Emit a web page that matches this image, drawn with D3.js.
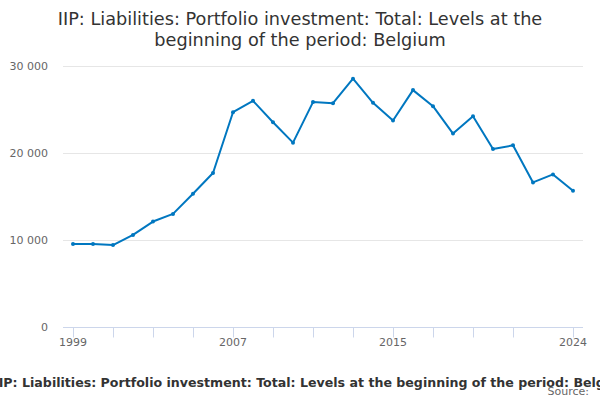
<!DOCTYPE html>
<html>
<head>
<meta charset="utf-8">
<script src="https://cdn.jsdelivr.net/npm/d3@7"></script>
<style>
  body { margin: 0; background: #fff; }
  svg { font-family: "DejaVu Sans", sans-serif; display: block; }
</style>
</head>
<body>
<svg id="chart" width="600" height="400"></svg>
<script>
const years = d3.range(1999, 2025)
const values = [
    9540, 9530, 9420, 10580, 12120, 13000, 15310, 17700, 24690, 26000,
    23540, 21190, 25850, 25730, 28540, 25770, 23730, 27230, 25380, 22230,
    24230, 20460, 20880, 16620, 17540, 15660,
]
const tickYears = [1999, 2001, 2003, 2005, 2007, 2009, 2011, 2013, 2015, 2017, 2019, 2021, 2024]
const labelYears = [1999, 2007, 2015, 2024]
const yTicks = [0, 10000, 20000, 30000]
const titleLines = [
    'IIP: Liabilities: Portfolio investment: Total: Levels at the',
    'beginning of the period: Belgium',
]
const caption = 'IIP: Liabilities: Portfolio investment: Total: Levels at the beginning of the period: Belgium'
const sourceText = 'Source:'

const data = years.map((year, i) => ({ year, value: values[i] }))

const svg = d3.select('#chart')
const margin = { top: 66, right: 17, bottom: 73, left: 63 }
const width = 600
const height = 400

const x = d3.scaleLinear()
    .domain([1998.5, 2024.5])
    .range([margin.left, width - margin.right])

const y = d3.scaleLinear()
    .domain([0, 30000])
    .range([height - margin.bottom, margin.top])

const fmt = (d) => d3.format(',')(d).replace(/,/g, ' ')

// title
svg.append('g')
    .selectAll('text')
    .data(titleLines)
    .join('text')
    .attr('x', width / 2)
    .attr('y', (d, i) => 25 + i * 21)
    .attr('text-anchor', 'middle')
    .attr('fill', '#333')
    .style('font-size', '17.7px')
    .text(d => d)

// gridlines
svg.append('g')
    .selectAll('line')
    .data(yTicks.filter(d => d > 0))
    .join('line')
    .attr('x1', margin.left)
    .attr('x2', width - margin.right)
    .attr('y1', d => y(d) + 0.5)
    .attr('y2', d => y(d) + 0.5)
    .attr('stroke', '#e6e6e6')

// y labels
svg.append('g')
    .selectAll('text')
    .data(yTicks)
    .join('text')
    .attr('x', margin.left - 15)
    .attr('y', d => y(d) + 4)
    .attr('text-anchor', 'end')
    .attr('fill', '#666')
    .style('font-size', '11px')
    .text(fmt)

// x axis
const xAxis = svg.append('g')
    .attr('transform', `translate(0,${y(0) + 0.5})`)

xAxis.append('line')
    .attr('x1', margin.left)
    .attr('x2', width - margin.right)
    .attr('stroke', '#ccd6eb')

xAxis.selectAll('line.tick')
    .data(tickYears)
    .join('line')
    .attr('class', 'tick')
    .attr('x1', d => Math.round(x(d)) + 0.5)
    .attr('x2', d => Math.round(x(d)) + 0.5)
    .attr('y2', 10)
    .attr('stroke', '#ccd6eb')

xAxis.selectAll('text')
    .data(labelYears)
    .join('text')
    .attr('x', d => x(d))
    .attr('y', 18)
    .attr('text-anchor', 'middle')
    .attr('fill', '#666')
    .style('font-size', '11px')
    .text(d => d)

// line
const line = d3.line()
    .x(d => x(d.year))
    .y(d => y(d.value))

svg.append('path')
    .datum(data)
    .attr('fill', 'none')
    .attr('stroke', '#0077c0')
    .attr('stroke-width', 2)
    .attr('stroke-linejoin', 'round')
    .attr('d', line)

svg.append('g')
    .selectAll('circle')
    .data(data)
    .join('circle')
    .attr('cx', d => x(d.year))
    .attr('cy', d => y(d.value))
    .attr('r', 2)
    .attr('fill', '#0077c0')

// caption + source
svg.append('text')
    .attr('x', -6)
    .attr('y', 387)
    .attr('fill', '#333')
    .style('font-size', '12.6px')
    .style('font-weight', 'bold')
    .text(caption)

svg.append('text')
    .attr('x', 589)
    .attr('y', 395)
    .attr('text-anchor', 'end')
    .attr('fill', '#666')
    .style('font-size', '11px')
    .text(sourceText)
</script>
</body>
</html>
